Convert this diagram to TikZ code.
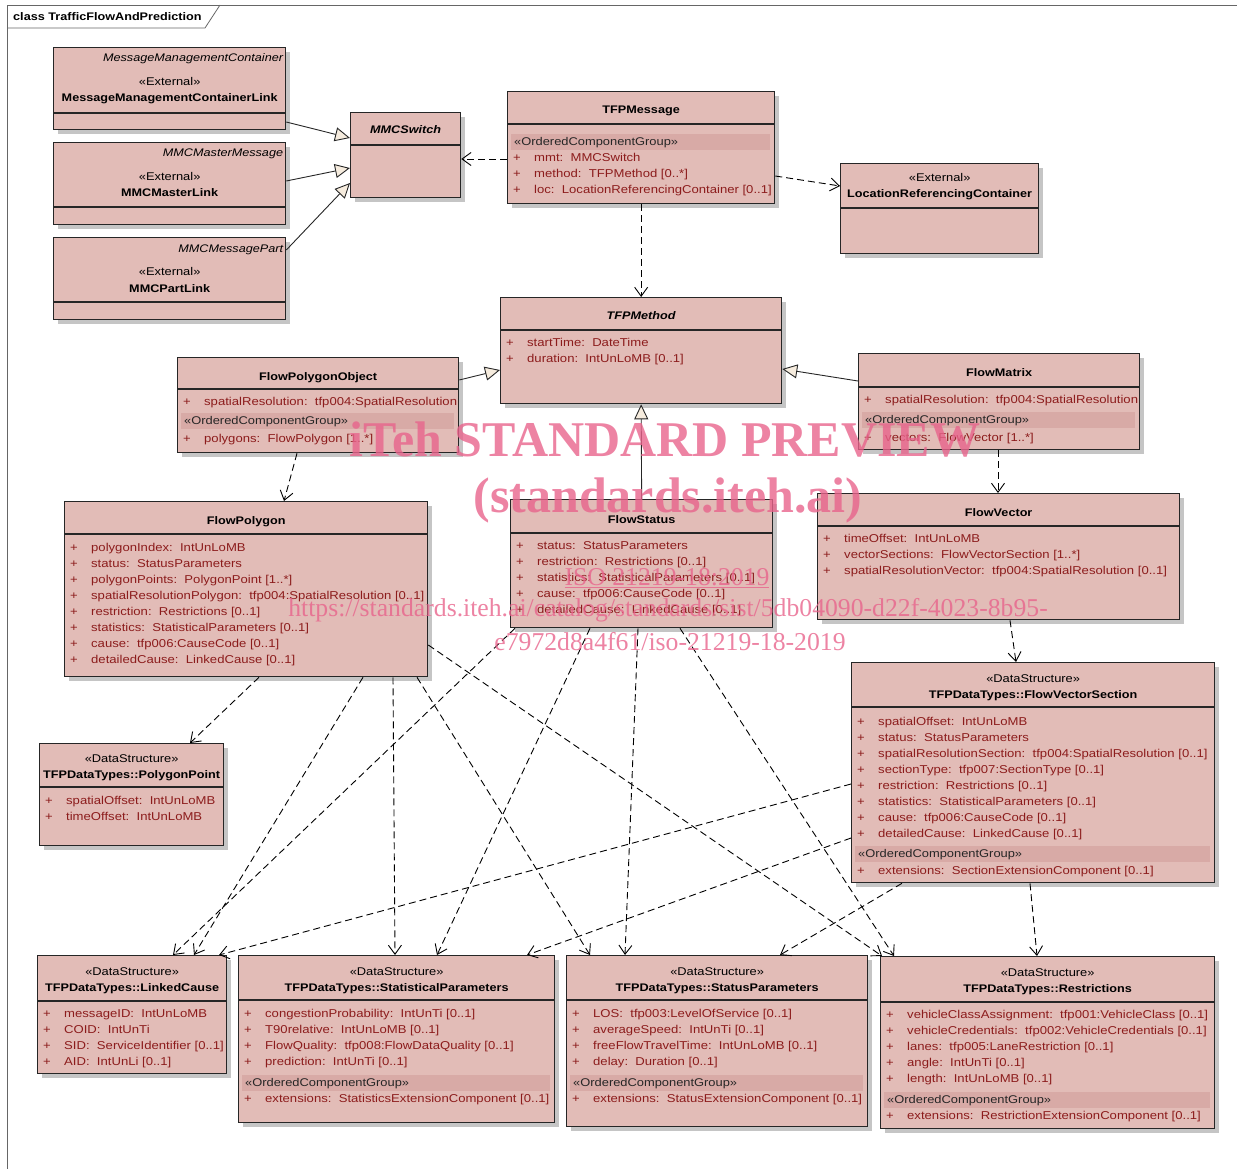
\documentclass[tikz,border=0pt]{standalone}
\usepackage{fontspec}
\setmainfont{Liberation Sans}[FakeStretch=1.15]
\newfontfamily\wmfont{Liberation Serif}
\usetikzlibrary{%
  positioning
 ,arrows.meta
 ,shadows
}
\definecolor{clsfill}{RGB}{226,188,183}
\definecolor{ocgfill}{RGB}{216,170,166}
\definecolor{attrred}{RGB}{140,28,28}
\definecolor{tipfill}{RGB}{246,236,222}
\definecolor{wmpink}{RGB}{232,100,140}
\tikzstyle{cls}=[draw=black!85,line width=1.3pt,fill=clsfill,inner sep=0pt,
  drop shadow={shadow xshift=4pt,shadow yshift=-4pt,fill=black!45}]
\tikzstyle{sepline}=[draw=black!85,line width=1.2pt]
\tikzstyle{hdr}=[anchor=base,inner sep=0pt,font=\bfseries\fontsize{11}{13}\selectfont]
\tikzstyle{stereo}=[anchor=base,inner sep=0pt,font=\fontsize{11.2}{13}\selectfont]
\tikzstyle{attr}=[anchor=north west,inner sep=0pt,align=left,text=attrred,
  font=\fontsize{11.4}{16}\selectfont]
\tikzstyle{ocg}=[anchor=north west,fill=ocgfill,inner xsep=3pt,inner ysep=0pt,
  minimum height=16pt,align=left,text=black!85,font=\fontsize{11.2}{13}\selectfont]
\newcommand\umlbox[6]{%
  \node[cls,minimum width=#4pt,minimum height=#5pt,anchor=north west](#1)at(#2,#3){};
  \draw[sepline]([yshift=-#6pt]#1.north west)--([yshift=-#6pt]#1.north east);}
\newcommand\attrline[1]{\strut\makebox[21pt][l]{+}#1}

\begin{document}
\begin{tikzpicture}[x=1pt,y=-1pt]
  \useasboundingbox (0,0) rectangle (1237,1169);
  \tikzstyle{frame}=[draw=black!60,line width=0.8pt]
  \draw[frame] (7,1169) -- (7,5) -- (1237,5);
  \draw[frame] (7,28) -- (205,28) -- (220,5);
  \node[hdr,anchor=base west](frametitle)at(13,21){class TrafficFlowAndPrediction};
  %
  % external links
  \umlbox{mmclink}{53}{47}{232}{82}{66}
  \node[stereo,anchor=base east,font=\itshape\fontsize{11}{13}\selectfont]
    (mmclink-from)at([xshift=-3pt,yshift=-15pt]mmclink.north east){MessageManagementContainer};
  \node[stereo](mmclink-st)at([yshift=-39pt]mmclink.north){«External»};
  \node[hdr](mmclink-name)at([yshift=-55pt]mmclink.north){MessageManagementContainerLink};
  \umlbox{mmcmaster}{53}{142}{232}{82}{65}
  \node[stereo,anchor=base east,font=\itshape\fontsize{11}{13}\selectfont]
    (mmcmaster-from)at([xshift=-3pt,yshift=-15pt]mmcmaster.north east){MMCMasterMessage};
  \node[stereo](mmcmaster-st)at([yshift=-39pt]mmcmaster.north){«External»};
  \node[hdr](mmcmaster-name)at([yshift=-55pt]mmcmaster.north){MMCMasterLink};
  \umlbox{mmcpart}{53}{237}{232}{82}{65}
  \node[stereo,anchor=base east,font=\itshape\fontsize{11}{13}\selectfont]
    (mmcpart-from)at([xshift=-3pt,yshift=-15pt]mmcpart.north east){MMCMessagePart};
  \node[stereo](mmcpart-st)at([yshift=-39pt]mmcpart.north){«External»};
  \node[hdr](mmcpart-name)at([yshift=-55pt]mmcpart.north){MMCPartLink};
  \umlbox{switch}{350}{112}{110}{85}{33}
  \node[hdr,font=\bfseries\itshape\fontsize{11}{13}\selectfont](switch-name)at([yshift=-22pt]switch.north){MMCSwitch};
  %
  % message
  \umlbox{msg}{507}{91}{267}{112}{33}
  \node[hdr](msg-name)at([yshift=-23pt]msg.north){TFPMessage};
  \node[ocg,text width=253pt](msg-ocg)at([xshift=4pt,yshift=-43pt]msg.north west){«OrderedComponentGroup»};
  \node[attr](msg-attr)at([xshift=6pt,yshift=-59pt]msg.north west){%
    \attrline{mmt:~~MMCSwitch}\\
    \attrline{method:~~TFPMethod [0..*]}\\
    \attrline{loc:~~LocationReferencingContainer [0..1]}};
  \umlbox{lrc}{840}{163}{198}{90}{45}
  \node[stereo](lrc-st)at([yshift=-19pt]lrc.north){«External»};
  \node[hdr](lrc-name)at([yshift=-35pt]lrc.north){LocationReferencingContainer};
  %
  % method and its kinds
  \umlbox{method}{500}{297}{281}{106}{33}
  \node[hdr,font=\bfseries\itshape\fontsize{11}{13}\selectfont](method-name)at([yshift=-22pt]method.north){TFPMethod};
  \node[attr](method-attr)at([xshift=6pt,yshift=-38pt]method.north west){%
    \attrline{startTime:~~DateTime}\\
    \attrline{duration:~~IntUnLoMB [0..1]}};
  \umlbox{fpo}{177}{357}{281}{95}{32}
  \node[hdr](fpo-name)at([yshift=-23pt]fpo.north){FlowPolygonObject};
  \node[attr](fpo-attr)at([xshift=6pt,yshift=-37pt]fpo.north west){%
    \attrline{spatialResolution:~~tfp004:SpatialResolution}};
  \node[ocg,text width=267pt](fpo-ocg)at([xshift=4pt,yshift=-56pt]fpo.north west){«OrderedComponentGroup»};
  \node[attr](fpo-ext)at([xshift=6pt,yshift=-74pt]fpo.north west){%
    \attrline{polygons:~~FlowPolygon [1..*]}};
  \umlbox{fmatrix}{858}{353}{281}{96}{34}
  \node[hdr](fmatrix-name)at([yshift=-23pt]fmatrix.north){FlowMatrix};
  \node[attr](fmatrix-attr)at([xshift=6pt,yshift=-39pt]fmatrix.north west){%
    \attrline{spatialResolution:~~tfp004:SpatialResolution}};
  \node[ocg,text width=267pt](fmatrix-ocg)at([xshift=4pt,yshift=-59pt]fmatrix.north west){«OrderedComponentGroup»};
  \node[attr](fmatrix-ext)at([xshift=6pt,yshift=-77pt]fmatrix.north west){%
    \attrline{vectors:~~FlowVector [1..*]}};
  \umlbox{fpoly}{64}{501}{363}{175}{33}
  \node[hdr](fpoly-name)at([yshift=-23pt]fpoly.north){FlowPolygon};
  \node[attr](fpoly-attr)at([xshift=6pt,yshift=-39pt]fpoly.north west){%
    \attrline{polygonIndex:~~IntUnLoMB}\\
    \attrline{status:~~StatusParameters}\\
    \attrline{polygonPoints:~~PolygonPoint [1..*]}\\
    \attrline{spatialResolutionPolygon:~~tfp004:SpatialResolution [0..1]}\\
    \attrline{restriction:~~Restrictions [0..1]}\\
    \attrline{statistics:~~StatisticalParameters [0..1]}\\
    \attrline{cause:~~tfp006:CauseCode [0..1]}\\
    \attrline{detailedCause:~~LinkedCause [0..1]}};
  \umlbox{fstatus}{510}{499}{262}{128}{34}
  \node[hdr](fstatus-name)at([yshift=-24pt]fstatus.north){FlowStatus};
  \node[attr](fstatus-attr)at([xshift=6pt,yshift=-39pt]fstatus.north west){%
    \attrline{status:~~StatusParameters}\\
    \attrline{restriction:~~Restrictions [0..1]}\\
    \attrline{statistics:~~StatisticalParameters [0..1]}\\
    \attrline{cause:~~tfp006:CauseCode [0..1]}\\
    \attrline{detailedCause:~~LinkedCause [0..1]}};
  \umlbox{fvector}{817}{493}{362}{126}{33}
  \node[hdr](fvector-name)at([yshift=-23pt]fvector.north){FlowVector};
  \node[attr](fvector-attr)at([xshift=6pt,yshift=-38pt]fvector.north west){%
    \attrline{timeOffset:~~IntUnLoMB}\\
    \attrline{vectorSections:~~FlowVectorSection [1..*]}\\
    \attrline{spatialResolutionVector:~~tfp004:SpatialResolution [0..1]}};
  %
  % data structures
  \umlbox{fvs}{851}{662}{363}{220}{45}
  \node[stereo](fvs-st)at([yshift=-20pt]fvs.north){«DataStructure»};
  \node[hdr](fvs-name)at([yshift=-36pt]fvs.north){TFPDataTypes::FlowVectorSection};
  \node[attr](fvs-attr)at([xshift=6pt,yshift=-52pt]fvs.north west){%
    \attrline{spatialOffset:~~IntUnLoMB}\\
    \attrline{status:~~StatusParameters}\\
    \attrline{spatialResolutionSection:~~tfp004:SpatialResolution [0..1]}\\
    \attrline{sectionType:~~tfp007:SectionType [0..1]}\\
    \attrline{restriction:~~Restrictions [0..1]}\\
    \attrline{statistics:~~StatisticalParameters [0..1]}\\
    \attrline{cause:~~tfp006:CauseCode [0..1]}\\
    \attrline{detailedCause:~~LinkedCause [0..1]}};
  \node[ocg,text width=349pt](fvs-ocg)at([xshift=4pt,yshift=-184pt]fvs.north west){«OrderedComponentGroup»};
  \node[attr](fvs-ext)at([xshift=6pt,yshift=-201pt]fvs.north west){%
    \attrline{extensions:~~SectionExtensionComponent [0..1]}};
  \umlbox{ppoint}{39}{743}{184}{102}{44}
  \node[stereo](ppoint-st)at([yshift=-19pt]ppoint.north){«DataStructure»};
  \node[hdr](ppoint-name)at([yshift=-35pt]ppoint.north){TFPDataTypes::PolygonPoint};
  \node[attr](ppoint-attr)at([xshift=6pt,yshift=-50pt]ppoint.north west){%
    \attrline{spatialOffset:~~IntUnLoMB}\\
    \attrline{timeOffset:~~IntUnLoMB}};
  \umlbox{lcause}{37}{955}{189}{118}{46}
  \node[stereo](lcause-st)at([yshift=-20pt]lcause.north){«DataStructure»};
  \node[hdr](lcause-name)at([yshift=-36pt]lcause.north){TFPDataTypes::LinkedCause};
  \node[attr](lcause-attr)at([xshift=6pt,yshift=-51pt]lcause.north west){%
    \attrline{messageID:~~IntUnLoMB}\\
    \attrline{COID:~~IntUnTi}\\
    \attrline{SID:~~ServiceIdentifier [0..1]}\\
    \attrline{AID:~~IntUnLi [0..1]}};
  \umlbox{statp}{238}{955}{316}{167}{45}
  \node[stereo](statp-st)at([yshift=-20pt]statp.north){«DataStructure»};
  \node[hdr](statp-name)at([yshift=-36pt]statp.north){TFPDataTypes::StatisticalParameters};
  \node[attr](statp-attr)at([xshift=6pt,yshift=-51pt]statp.north west){%
    \attrline{congestionProbability:~~IntUnTi [0..1]}\\
    \attrline{T90relative:~~IntUnLoMB [0..1]}\\
    \attrline{FlowQuality:~~tfp008:FlowDataQuality [0..1]}\\
    \attrline{prediction:~~IntUnTi [0..1]}};
  \node[ocg,text width=302pt](statp-ocg)at([xshift=4pt,yshift=-120pt]statp.north west){«OrderedComponentGroup»};
  \node[attr](statp-ext)at([xshift=6pt,yshift=-136pt]statp.north west){%
    \attrline{extensions:~~StatisticsExtensionComponent [0..1]}};
  \umlbox{statusp}{566}{955}{301}{171}{45}
  \node[stereo](statusp-st)at([yshift=-20pt]statusp.north){«DataStructure»};
  \node[hdr](statusp-name)at([yshift=-36pt]statusp.north){TFPDataTypes::StatusParameters};
  \node[attr](statusp-attr)at([xshift=6pt,yshift=-51pt]statusp.north west){%
    \attrline{LOS:~~tfp003:LevelOfService [0..1]}\\
    \attrline{averageSpeed:~~IntUnTi [0..1]}\\
    \attrline{freeFlowTravelTime:~~IntUnLoMB [0..1]}\\
    \attrline{delay:~~Duration [0..1]}};
  \node[ocg,text width=287pt](statusp-ocg)at([xshift=4pt,yshift=-120pt]statusp.north west){«OrderedComponentGroup»};
  \node[attr](statusp-ext)at([xshift=6pt,yshift=-136pt]statusp.north west){%
    \attrline{extensions:~~StatusExtensionComponent [0..1]}};
  \umlbox{restr}{880}{956}{334}{172}{46}
  \node[stereo](restr-st)at([yshift=-20pt]restr.north){«DataStructure»};
  \node[hdr](restr-name)at([yshift=-36pt]restr.north){TFPDataTypes::Restrictions};
  \node[attr](restr-attr)at([xshift=6pt,yshift=-51pt]restr.north west){%
    \attrline{vehicleClassAssignment:~~tfp001:VehicleClass [0..1]}\\
    \attrline{vehicleCredentials:~~tfp002:VehicleCredentials [0..1]}\\
    \attrline{lanes:~~tfp005:LaneRestriction [0..1]}\\
    \attrline{angle:~~IntUnTi [0..1]}\\
    \attrline{length:~~IntUnLoMB [0..1]}};
  \node[ocg,text width=320pt](restr-ocg)at([xshift=4pt,yshift=-136pt]restr.north west){«OrderedComponentGroup»};
  \node[attr](restr-ext)at([xshift=6pt,yshift=-152pt]restr.north west){%
    \attrline{extensions:~~RestrictionExtensionComponent [0..1]}};
  %
  \tikzstyle{gen}=[-{Triangle[length=15pt,width=14pt,fill=tipfill]},line width=0.9pt,draw=black!85]
  \tikzstyle{dep}=[-{Straight Barb[length=9pt,width=13pt]},dash pattern=on 7pt off 4pt,line width=0.9pt]
  % generalisations
  \draw[gen] ([yshift=-75pt]mmclink.north east) -- ([yshift=-26pt]switch.north west);
  \draw[gen] ([yshift=-39pt]mmcmaster.north east) -- ([yshift=-56pt]switch.north west);
  \draw[gen] ([yshift=-13pt]mmcpart.north east) -- ([yshift=-71pt]switch.north west);
  \draw[gen] ([yshift=-23pt]fpo.north east) -- ([yshift=-73pt]method.north west);
  \draw[gen] ([yshift=-28pt]fmatrix.north west) -- ([yshift=-72pt]method.north east);
  \draw[gen] (fstatus.north) -- (method.south);
  % dependencies
  \draw[dep] ([yshift=-68pt]msg.north west) -- ([yshift=-47pt]switch.north east);
  \draw[dep] ([yshift=-85pt]msg.north east) -- ([yshift=-23pt]lrc.north west);
  \draw[dep] (msg.south) -- (method.north);
  \draw[dep] ([xshift=120pt]fpo.south west) -- ([xshift=220pt]fpoly.north west);
  \draw[dep] ([xshift=140pt]fmatrix.south west) -- ([xshift=181pt]fvector.north west);
  \draw[dep] ([xshift=193pt]fvector.south west) -- ([xshift=165pt]fvs.north west);
  \draw[dep] ([xshift=195pt]fpoly.south west) -- ([xshift=151pt]ppoint.north west);
  \draw[dep] ([xshift=299pt]fpoly.south west) -- ([xshift=157pt]lcause.north west);
  \draw[dep] ([xshift=329pt]fpoly.south west) -- ([xshift=157pt]statp.north west);
  \draw[dep] ([xshift=353pt]fpoly.south west) -- ([xshift=24pt]statusp.north west);
  \draw[dep] ([yshift=-144pt]fpoly.north east) -- ([xshift=2pt]restr.north west);
  \draw[dep] ([xshift=5pt]fstatus.south west) -- ([xshift=136pt]lcause.north west);
  \draw[dep] ([xshift=80pt]fstatus.south west) -- ([xshift=199pt]statp.north west);
  \draw[dep] ([xshift=128pt]fstatus.south west) -- ([xshift=59pt]statusp.north west);
  \draw[dep] ([xshift=170pt]fstatus.south west) -- ([xshift=14pt]restr.north west);
  \draw[dep] ([yshift=-122pt]fvs.north west) -- ([xshift=182pt]lcause.north west);
  \draw[dep] ([yshift=-176pt]fvs.north west) -- ([xshift=289pt]statp.north west);
  \draw[dep] ([xshift=51pt]fvs.south west) -- ([xshift=214pt]statusp.north west);
  \draw[dep] ([xshift=179pt]fvs.south west) -- ([xshift=157pt]restr.north west);
  %
  % preview stamp
  \tikzstyle{wm}=[text=wmpink,text opacity=0.8,inner sep=0pt]
  \node[wm,font=\wmfont\bfseries\fontsize{50}{50}\selectfont](wm1)at(665,440){iTeh STANDARD PREVIEW};
  \node[wm,font=\wmfont\bfseries\fontsize{50}{50}\selectfont](wm2)at(668,500){(standards.iteh.ai)};
  \node[wm,font=\wmfont\fontsize{25.7}{26}\selectfont](wm3)at(667,578){\underline{ISO 21219-18:2019}};
  \node[wm,font=\wmfont\fontsize{25.7}{26}\selectfont](wm4)at(668,610){https://standards.iteh.ai/catalog/standards/sist/5db04090-d22f-4023-8b95-};
  \node[wm,font=\wmfont\fontsize{25.7}{26}\selectfont](wm5)at(670,642){e7972d8a4f61/iso-21219-18-2019};
\end{tikzpicture}
\end{document}
